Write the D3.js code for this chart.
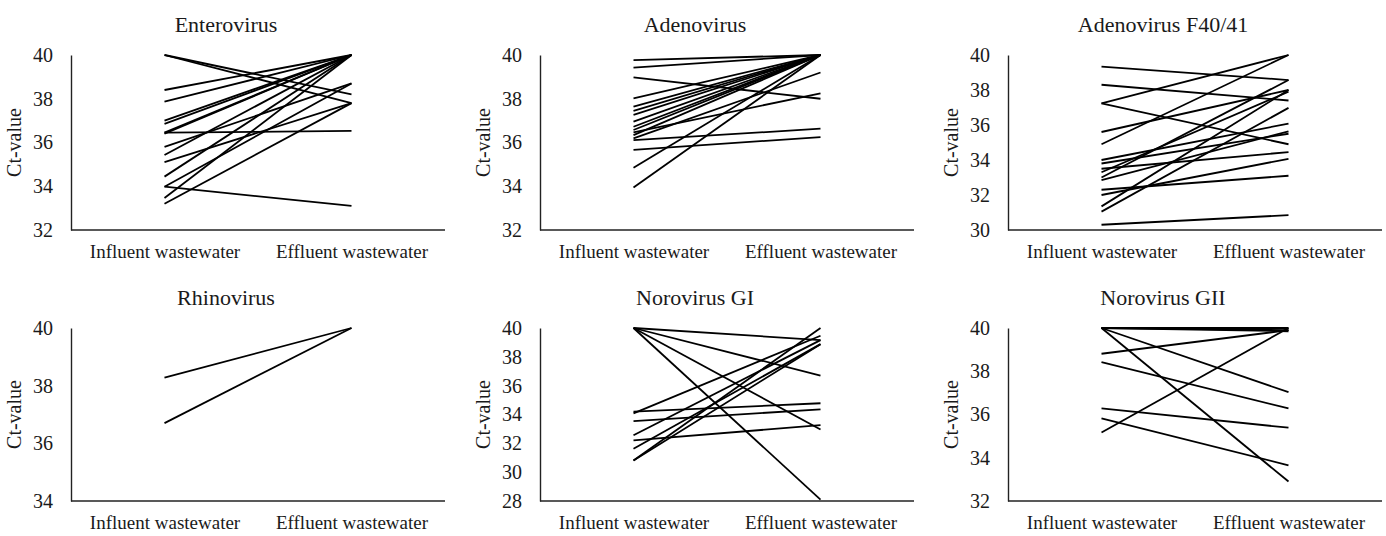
<!DOCTYPE html>
<html><head><meta charset="utf-8">
<script src="https://cdn.jsdelivr.net/npm/d3@7"></script>
<style>body{margin:0;background:#fff}svg{display:block}text{font-family:"Liberation Serif","Times New Roman",serif;fill:#1a1a1a}</style>
</head><body><svg id="c" width="1386" height="536"></svg>
<script>
const categories = ["Influent wastewater", "Effluent wastewater"];
const titles = ["Enterovirus", "Adenovirus", "Adenovirus F40/41", "Rhinovirus", "Norovirus GI", "Norovirus GII"];
const yDomains = [[32, 40], [32, 40], [30, 40], [34, 40], [28, 40], [32, 40]];
const yTicks = [[32,34,36,38,40],[32,34,36,38,40],[30,32,34,36,38,40],[34,36,38,40],[28,30,32,34,36,38,40],[32,34,36,38,40]];

const enteroInfluent = [40, 40, 38.4, 37.87, 37.0, 36.85, 36.45, 36.45, 36.4, 35.8, 35.43, 35.1, 34.44, 33.98, 33.98, 33.46, 33.2];
const enteroEffluent = [38.2, 37.8, 40, 40, 40, 40, 36.53, 40, 40, 38.7, 40, 37.8, 40, 33.1, 38.7, 40, 37.8];

const adenoInfluent = [39.77, 39.42, 38.98, 38.02, 37.64, 37.45, 37.26, 36.95, 36.72, 36.57, 36.46, 36.34, 36.19, 36.11, 35.66, 34.85, 33.94];
const adenoEffluent = [40, 40, 38.0, 40, 40, 40, 40, 40, 40, 40, 38.25, 40, 39.2, 36.63, 36.25, 40, 40];

const adenoFInfluent = [39.33, 38.3, 37.23, 37.23, 35.6, 34.9, 34.0, 33.8, 33.5, 33.3, 33.0, 32.85, 32.3, 32.0, 31.35, 31.05, 30.3];
const adenoFEffluent = [38.57, 37.4, 40, 34.9, 38.0, 40, 36.08, 35.5, 34.45, 37.9, 38.57, 35.64, 33.1, 34.07, 38.0, 36.98, 30.85];

const rhinoInfluent = [38.28, 36.7];
const rhinoEffluent = [40, 40];

const noroGIInfluent = [40, 40, 40, 40, 34.2, 34.08, 33.54, 32.56, 32.21, 31.63, 30.81, 30.81];
const noroGIEffluent = [39.16, 36.7, 32.96, 28.1, 34.78, 39.46, 34.36, 39.16, 33.26, 38.88, 40, 38.88];

const noroGIIInfluent = [40, 40, 40, 40, 40, 38.81, 38.42, 36.28, 35.82, 35.17];
const noroGIIEffluent = [40, 39.9, 39.85, 37.03, 32.9, 39.9, 36.28, 35.39, 33.65, 40];

const influents = [enteroInfluent, adenoInfluent, adenoFInfluent, rhinoInfluent, noroGIInfluent, noroGIIInfluent];
const effluents = [enteroEffluent, adenoEffluent, adenoFEffluent, rhinoEffluent, noroGIEffluent, noroGIIEffluent];

const svg = d3.select("#c");
const axisX = [71, 540, 1008];
const rows = [{top: 55, bottom: 230}, {top: 328, bottom: 501}];
const plotW = 374;

titles.forEach((t, i) => {
  const col = i % 3, row = Math.floor(i / 3);
  const x0 = axisX[col], r = rows[row];
  const g = svg.append("g");
  const x = d3.scalePoint().domain(categories).range([x0, x0 + plotW]).padding(0.5);
  const y = d3.scaleLinear().domain(yDomains[i]).range([r.bottom, r.top]);

  g.append("text").attr("x", x0 + plotW / 2 - 32).attr("y", r.top - 23)
    .attr("text-anchor", "middle").attr("font-size", 22).text(t);

  const ya = g.append("g").attr("transform", `translate(${x0},0)`)
    .call(d3.axisLeft(y).tickValues(yTicks[i]).tickSize(0).tickPadding(18).tickFormat(d3.format("d")));
  ya.select(".domain").attr("stroke", "#222").attr("stroke-width", 1.4);
  ya.selectAll("text").attr("font-size", 20).attr("font-family", '"Liberation Serif", serif').attr("fill", "#1a1a1a");

  const xa = g.append("g").attr("transform", `translate(0,${r.bottom})`)
    .call(d3.axisBottom(x).tickSize(0).tickPadding(15));
  xa.select(".domain").attr("stroke", "#222").attr("stroke-width", 1.4).attr("d", `M${x0},0H${x0 + plotW}`);
  xa.selectAll("text").attr("font-size", 19).attr("font-family", '"Liberation Serif", serif').attr("fill", "#1a1a1a");

  g.append("text").attr("transform", `translate(${x0 - 50},${(r.top + r.bottom) / 2}) rotate(-90)`)
    .attr("text-anchor", "middle").attr("font-size", 20).text("Ct-value");

  const pairs = influents[i].map((v, k) => [[categories[0], v], [categories[1], effluents[i][k]]]);
  const line = d3.line().x(d => x(d[0])).y(d => y(d[1]));
  g.selectAll("path.l").data(pairs).join("path").attr("class", "l")
    .attr("d", line).attr("fill", "none").attr("stroke", "#000").attr("stroke-width", 1.8);
});
</script></body></html>
